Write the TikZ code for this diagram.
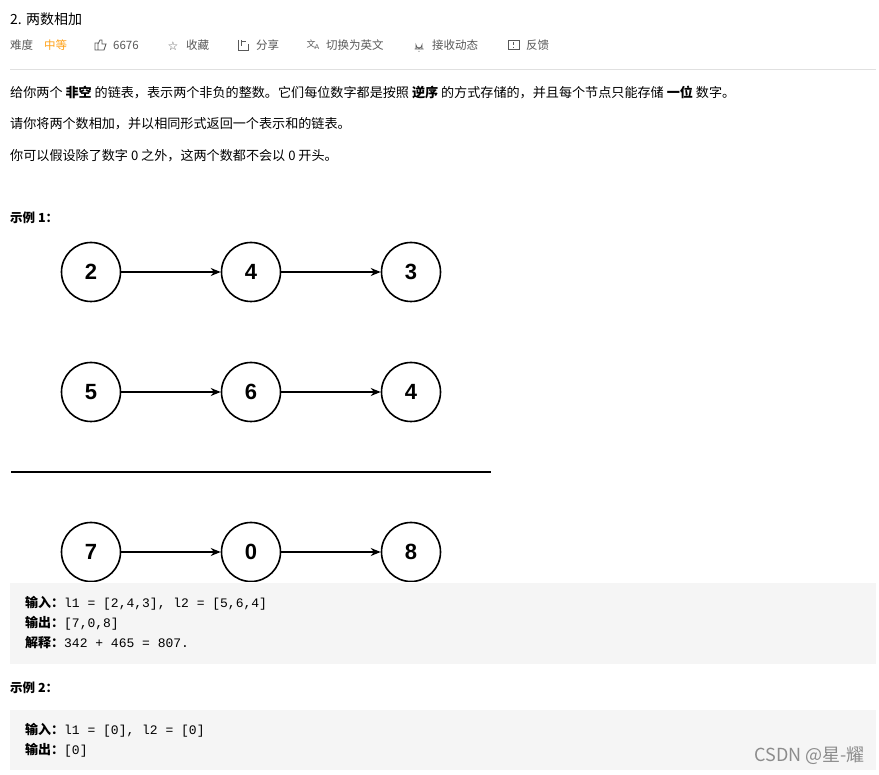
\documentclass[tikz,border=0pt]{standalone}
\usepackage{fontspec}
\setmainfont{Noto Sans CJK SC}
\newfontfamily\cjk{Noto Sans CJK SC}
\newfontfamily\lat{Liberation Sans}
\newfontfamily\djv{DejaVu Sans}
\setmonofont{Liberation Mono}
\usetikzlibrary{arrows.meta}
\definecolor{boxgray}{HTML}{F5F5F5}
\definecolor{meta}{HTML}{595959}
\definecolor{orangeT}{HTML}{FFA116}
\begin{document}
\begin{tikzpicture}[x=1pt,y=-1pt,
  txt/.style={anchor=west,inner sep=0pt,font=\fontsize{13.1}{15}\selectfont},
  mt/.style={anchor=west,inner sep=0pt,font=\fontsize{11.5}{13}\selectfont,text=meta},
  cd/.style={anchor=west,inner sep=0pt,font=\fontsize{13}{15}\selectfont},
  ln/.style={circle,draw,line width=1.6pt,minimum size=59pt,inner sep=0pt,font=\lat\bfseries\fontsize{22}{24}\selectfont},
  ar/.style={-{Stealth[length=10pt,width=8pt]},line width=1.2pt}]
\useasboundingbox (0,0) rectangle (879,775);
\fill[white] (0,0) rectangle (879,775);
\node[txt,font=\fontsize{14}{16}\selectfont] (title) at (10,19) {2. 两数相加};
\node[mt] (m1) at (10,45) {难度};
\node[mt,text=orangeT] (m2) at (44,45) {中等};
\node[mt] (m3) at (113,45) {6676};
\node[mt] (m4) at (186,45) {收藏};
\node[mt] (m5) at (256,45) {分享};
\node[mt] (m6) at (326,45) {切换为英文};
\node[mt] (m7) at (432,45) {接收动态};
\node[mt] (m8) at (526,45) {反馈};
% icons
\draw[meta,line width=0.8pt] (95,50) rectangle (98,43) (98,50) -- (104,50) -- (106,44) -- (102,44) -- (102,40) -- (100,40) -- (98,44);
\node[inner sep=0pt,text=meta,font=\djv\fontsize{12}{12}\selectfont] (i2) at (173,46) {☆};
\draw[meta,line width=0.8pt] (238,40) -- (238,50) -- (248,50) -- (248,44) (241,40)--(241,46) (241,41)--(246,41);
\node[inner sep=0pt,text=meta,font=\cjk\fontsize{9}{10}\selectfont] (i4) at (313,45) {文\kern-1pt\raisebox{-2pt}{\lat\fontsize{7}{7}\selectfont A}};
\draw[meta,line width=0.8pt] (416,49) -- (416,45) arc (180:0:3) -- (422,49) (414.5,49)--(423.5,49) (419,51)--(419,52);
\draw[meta,line width=0.8pt] (508,40) rectangle (519,49) (513.5,42)--(513.5,45) (513.5,47)--(513.5,47.5);
\draw[black!12] (10,69) -- (876,69);
\node[txt] (p1) at (10,92) {给你两个 \textbf{非空} 的链表，表示两个非负的整数。它们每位数字都是按照 \textbf{逆序} 的方式存储的，并且每个节点只能存储 \textbf{一位} 数字。};
\node[txt] (p2) at (10,124) {请你将两个数相加，并以相同形式返回一个表示和的链表。};
\node[txt] (p3) at (10,156) {你可以假设除了数字 0 之外，这两个数都不会以 0 开头。};
\node[txt,font=\bfseries\fontsize{12.5}{14}\selectfont] (e1) at (10,218) {示例 1：};
\begin{scope}
\clip (0,230) rectangle (879,582);
\foreach \y/\a/\b/\c/\n in {272/2/4/3/a,392/5/6/4/b,552/7/0/8/c}{
  \node[ln] (\n1) at (91,\y) {\a};
  \node[ln] (\n2) at (251,\y) {\b};
  \node[ln] (\n3) at (411,\y) {\c};
  \draw[ar] (\n1) -- (\n2);
  \draw[ar] (\n2) -- (\n3);
}
\end{scope}
\draw[line width=1.6pt] (11,472) -- (491,472);
\fill[boxgray] (10,583) rectangle (876,664);
\node[cd] (c1) at (25,603) {\textbf{输入：}\texttt{l1 = [2,4,3], l2 = [5,6,4]}};
\node[cd] (c2) at (25,623) {\textbf{输出：}\texttt{[7,0,8]}};
\node[cd] (c3) at (25,643) {\textbf{解释：}\texttt{342 + 465 = 807.}};
\node[txt,font=\bfseries\fontsize{12.5}{14}\selectfont] (e2) at (10,688) {示例 2：};
\fill[boxgray] (10,710) rectangle (876,770);
\node[cd] (d1) at (25,730) {\textbf{输入：}\texttt{l1 = [0], l2 = [0]}};
\node[cd] (d2) at (25,750) {\textbf{输出：}\texttt{[0]}};
\node[anchor=east,inner sep=0pt,text=black!45,font=\fontsize{18}{20}\selectfont] (wm) at (865,756) {CSDN @星-耀};
\end{tikzpicture}
\end{document}
